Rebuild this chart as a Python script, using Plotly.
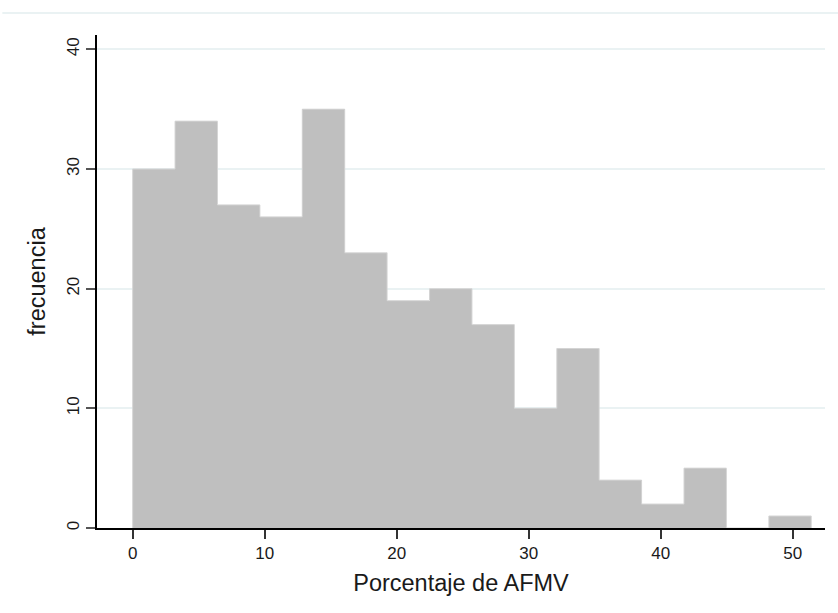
import plotly.graph_objects as go

# Histogram data (Stata-style): 16 bins starting at 0
bin_start = 0.0
bin_width = 3.213
counts = [30, 34, 27, 26, 35, 23, 19, 20, 17, 10, 15, 4, 2, 5, 0, 1]
x_ticks = [0, 10, 20, 30, 40, 50]
y_ticks = [0, 10, 20, 30, 40]

centers = [bin_start + bin_width * (i + 0.5) for i in range(len(counts))]
edges = [bin_start + bin_width * i for i in range(len(counts) + 1)]

fig = go.Figure()
fig.add_trace(go.Bar(
    x=centers, y=counts, width=[bin_width] * len(counts),
    marker=dict(color="#bfbfbf", line=dict(width=0)),
    hoverinfo="skip",
))
# faint outline along the histogram silhouette
step_x = [edges[0]] + edges
step_y = [0] + counts + [counts[-1]]
fig.add_trace(go.Scatter(
    x=step_x + [edges[-1]], y=step_y + [0], mode="lines",
    line=dict(color="#d4d4d4", width=1, shape="hv"), hoverinfo="skip",
))

font_family = "Liberation Sans, Arial, sans-serif"
fig.update_layout(
    width=838, height=613,
    margin=dict(l=97, r=13, t=35, b=85),
    paper_bgcolor="white", plot_bgcolor="white",
    showlegend=False,
    bargap=0,
    font=dict(family=font_family, color="#1a1a1a", size=17),
    xaxis=dict(
        range=[-2.7, 52.45], tickvals=x_ticks, ticks="outside", ticklen=9,
        tickcolor="#333333", tickwidth=1.5, showgrid=False, zeroline=False,
        showline=True, linecolor="#000000", linewidth=1.5,
        tickfont=dict(size=17, family=font_family),
        title=dict(text="Porcentaje de AFMV", font=dict(size=23.5, family=font_family), standoff=12),
    ),
    yaxis=dict(
        range=[0, 41.2], tickvals=y_ticks, ticks="outside", ticklen=9,
        tickcolor="#555555", tickwidth=1.5, showgrid=True, gridcolor="#eaf2f3",
        gridwidth=1.5, zeroline=False, showline=True, linecolor="#000000",
        linewidth=1.5, tickangle=-90,
        tickfont=dict(size=17, family=font_family),
        title=dict(text="frecuencia", font=dict(size=23.5, family=font_family), standoff=12),
    ),
    shapes=[dict(type="line", xref="paper", yref="paper",
                 x0=-0.13, x1=1.02, y0=1.0 + 22 / 493, y1=1.0 + 22 / 493,
                 line=dict(color="#eaf2f3", width=2))],
)

fig.write_html("out.html")
